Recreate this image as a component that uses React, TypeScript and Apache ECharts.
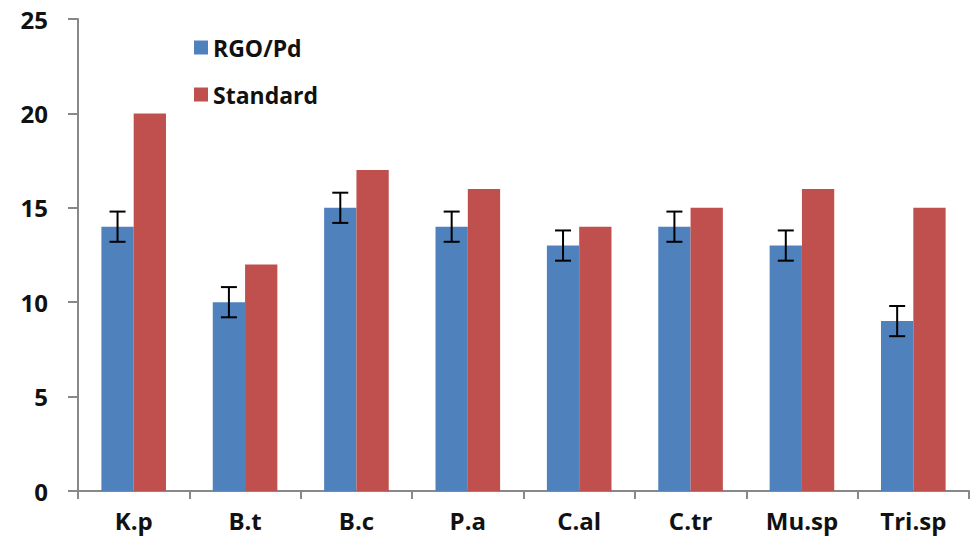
import React, { useEffect, useRef } from "react";
import * as echarts from "echarts";

const categories = ["K.p", "B.t", "B.c", "P.a", "C.al", "C.tr", "Mu.sp", "Tri.sp"];
const rgoPd = [14, 10, 15, 14, 13, 14, 13, 9];
const standard = [20, 12, 17, 16, 14, 15, 16, 15];
const rgoErr = [0.8, 0.8, 0.8, 0.8, 0.8, 0.8, 0.8, 0.8];
const yTicks = [0, 5, 10, 15, 20, 25];

const CAT_GAP = 0.42;
const FONT = "'Open Sans', 'DejaVu Sans', sans-serif";

export default function App() {
  const ref = useRef<HTMLDivElement>(null);
  useEffect(() => {
    const chart = echarts.init(ref.current!, undefined, { renderer: "svg" });
    chart.setOption({
      animation: false,
      backgroundColor: "#fff",
      grid: { left: 78, right: 6, top: 19, bottom: 52, containLabel: false },
      legend: {
        orient: "vertical",
        left: 189,
        top: 31,
        itemWidth: 14,
        itemHeight: 14,
        itemGap: 24,
        icon: "rect",
        data: ["RGO/Pd", "Standard"],
        textStyle: { fontFamily: FONT, fontWeight: "bold", fontSize: 23, color: "#111" },
      },
      xAxis: {
        type: "category",
        data: categories,
        axisLine: { lineStyle: { color: "#888", width: 2 } },
        axisTick: { show: true, length: 8, lineStyle: { color: "#888", width: 2 }, alignWithLabel: false },
        axisLabel: { fontFamily: FONT, fontWeight: "bold", fontSize: 24, color: "#111", margin: 17 },
      },
      yAxis: {
        type: "value",
        min: yTicks[0],
        max: yTicks[yTicks.length - 1],
        interval: 5,
        splitLine: { show: false },
        axisLine: { show: true, lineStyle: { color: "#888", width: 2 } },
        axisTick: { show: true, length: 10, lineStyle: { color: "#888", width: 2 } },
        axisLabel: { fontFamily: FONT, fontWeight: "bold", fontSize: 24, color: "#111", margin: 30 },
      },
      series: [
        {
          name: "RGO/Pd",
          type: "bar",
          data: rgoPd,
          barGap: "0%",
          barCategoryGap: CAT_GAP * 100 + "%",
          itemStyle: { color: "#4F81BD" },
        },
        {
          name: "Standard",
          type: "bar",
          data: standard,
          barGap: "0%",
          barCategoryGap: CAT_GAP * 100 + "%",
          itemStyle: { color: "#C0504D" },
        },
        {
          name: "err",
          type: "custom",
          z: 10,
          data: rgoPd.map((v, i) => [i, v - rgoErr[i], v + rgoErr[i]]),
          renderItem: (params: any, api: any) => {
            const idx = api.value(0);
            const lo = api.coord([idx, api.value(1)]);
            const hi = api.coord([idx, api.value(2)]);
            const band = api.size([1, 0])[0];
            const off = -(band * (1 - CAT_GAP)) / 4;
            const x = lo[0] + off;
            const cap = 8;
            const st = { stroke: "#000", lineWidth: 2 };
            return {
              type: "group",
              children: [
                { type: "line", shape: { x1: x, y1: lo[1], x2: x, y2: hi[1] }, style: st },
                { type: "line", shape: { x1: x - cap, y1: lo[1], x2: x + cap, y2: lo[1] }, style: st },
                { type: "line", shape: { x1: x - cap, y1: hi[1], x2: x + cap, y2: hi[1] }, style: st },
              ],
            };
          },
        },
      ],
    });
    return () => chart.dispose();
  }, []);
  return <div ref={ref} style={{ position: "fixed", left: 0, top: 0, width: 975, height: 543 }} />;
}
